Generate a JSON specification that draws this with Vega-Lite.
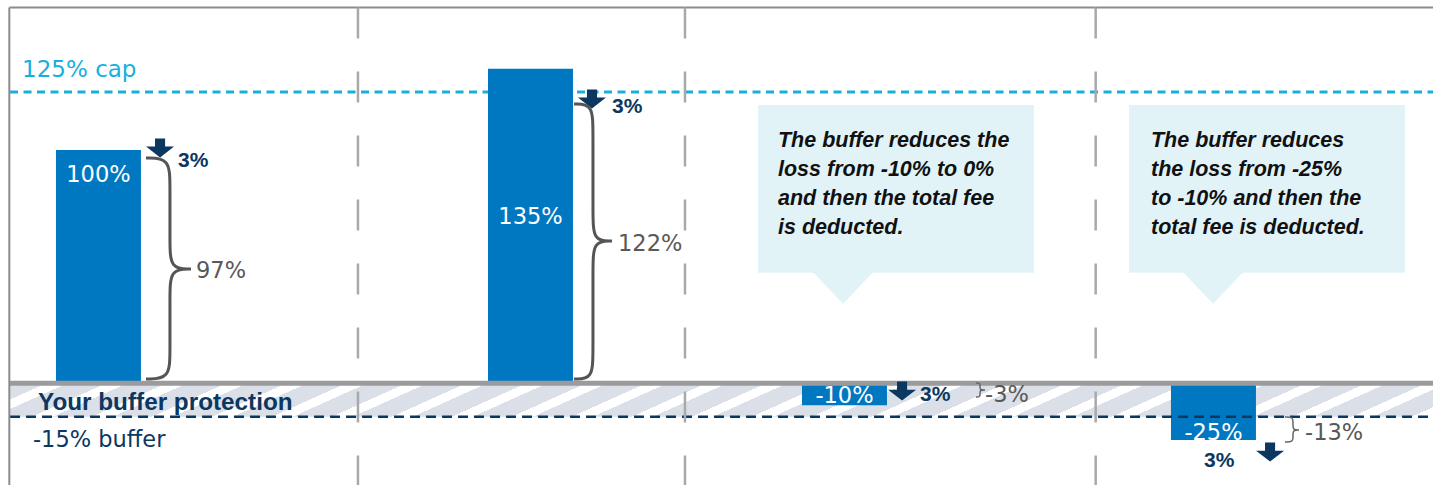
{
  "$schema": "https://vega.github.io/schema/vega-lite/v6.json",
  "width": 1433,
  "height": 485,
  "padding": 0,
  "autosize": {"type": "none"},
  "background": "white",
  "config": {"view": {"stroke": null}, "scale": {"continuousPadding": 0}},
  "layer": [
    {
      "data": {"values": [{}]},
      "mark": {"type": "rect", "fill": {"gradient": "linear", "x1": 0, "y1": 0, "x2": 1.093, "y2": 0.0594, "stops": [
        {"offset": 0, "color": "#dadfe8"}, {"offset": 0.025, "color": "#dadfe8"}, {"offset": 0.025, "color": "#ffffff"}, {"offset": 0.038462, "color": "#ffffff"},
        {"offset": 0.038462, "color": "#dadfe8"}, {"offset": 0.063462, "color": "#dadfe8"}, {"offset": 0.063462, "color": "#ffffff"}, {"offset": 0.076923, "color": "#ffffff"},
        {"offset": 0.076923, "color": "#dadfe8"}, {"offset": 0.101923, "color": "#dadfe8"}, {"offset": 0.101923, "color": "#ffffff"}, {"offset": 0.115385, "color": "#ffffff"},
        {"offset": 0.115385, "color": "#dadfe8"}, {"offset": 0.140385, "color": "#dadfe8"}, {"offset": 0.140385, "color": "#ffffff"}, {"offset": 0.153846, "color": "#ffffff"},
        {"offset": 0.153846, "color": "#dadfe8"}, {"offset": 0.178846, "color": "#dadfe8"}, {"offset": 0.178846, "color": "#ffffff"}, {"offset": 0.192308, "color": "#ffffff"},
        {"offset": 0.192308, "color": "#dadfe8"}, {"offset": 0.217308, "color": "#dadfe8"}, {"offset": 0.217308, "color": "#ffffff"}, {"offset": 0.230769, "color": "#ffffff"},
        {"offset": 0.230769, "color": "#dadfe8"}, {"offset": 0.255769, "color": "#dadfe8"}, {"offset": 0.255769, "color": "#ffffff"}, {"offset": 0.269231, "color": "#ffffff"},
        {"offset": 0.269231, "color": "#dadfe8"}, {"offset": 0.294231, "color": "#dadfe8"}, {"offset": 0.294231, "color": "#ffffff"}, {"offset": 0.307692, "color": "#ffffff"},
        {"offset": 0.307692, "color": "#dadfe8"}, {"offset": 0.332692, "color": "#dadfe8"}, {"offset": 0.332692, "color": "#ffffff"}, {"offset": 0.346154, "color": "#ffffff"},
        {"offset": 0.346154, "color": "#dadfe8"}, {"offset": 0.371154, "color": "#dadfe8"}, {"offset": 0.371154, "color": "#ffffff"}, {"offset": 0.384615, "color": "#ffffff"},
        {"offset": 0.384615, "color": "#dadfe8"}, {"offset": 0.409615, "color": "#dadfe8"}, {"offset": 0.409615, "color": "#ffffff"}, {"offset": 0.423077, "color": "#ffffff"},
        {"offset": 0.423077, "color": "#dadfe8"}, {"offset": 0.448077, "color": "#dadfe8"}, {"offset": 0.448077, "color": "#ffffff"}, {"offset": 0.461538, "color": "#ffffff"},
        {"offset": 0.461538, "color": "#dadfe8"}, {"offset": 0.486538, "color": "#dadfe8"}, {"offset": 0.486538, "color": "#ffffff"}, {"offset": 0.5, "color": "#ffffff"},
        {"offset": 0.5, "color": "#dadfe8"}, {"offset": 0.525, "color": "#dadfe8"}, {"offset": 0.525, "color": "#ffffff"}, {"offset": 0.538462, "color": "#ffffff"},
        {"offset": 0.538462, "color": "#dadfe8"}, {"offset": 0.563462, "color": "#dadfe8"}, {"offset": 0.563462, "color": "#ffffff"}, {"offset": 0.576923, "color": "#ffffff"},
        {"offset": 0.576923, "color": "#dadfe8"}, {"offset": 0.601923, "color": "#dadfe8"}, {"offset": 0.601923, "color": "#ffffff"}, {"offset": 0.615385, "color": "#ffffff"},
        {"offset": 0.615385, "color": "#dadfe8"}, {"offset": 0.640385, "color": "#dadfe8"}, {"offset": 0.640385, "color": "#ffffff"}, {"offset": 0.653846, "color": "#ffffff"},
        {"offset": 0.653846, "color": "#dadfe8"}, {"offset": 0.678846, "color": "#dadfe8"}, {"offset": 0.678846, "color": "#ffffff"}, {"offset": 0.692308, "color": "#ffffff"},
        {"offset": 0.692308, "color": "#dadfe8"}, {"offset": 0.717308, "color": "#dadfe8"}, {"offset": 0.717308, "color": "#ffffff"}, {"offset": 0.730769, "color": "#ffffff"},
        {"offset": 0.730769, "color": "#dadfe8"}, {"offset": 0.755769, "color": "#dadfe8"}, {"offset": 0.755769, "color": "#ffffff"}, {"offset": 0.769231, "color": "#ffffff"},
        {"offset": 0.769231, "color": "#dadfe8"}, {"offset": 0.794231, "color": "#dadfe8"}, {"offset": 0.794231, "color": "#ffffff"}, {"offset": 0.807692, "color": "#ffffff"},
        {"offset": 0.807692, "color": "#dadfe8"}, {"offset": 0.832692, "color": "#dadfe8"}, {"offset": 0.832692, "color": "#ffffff"}, {"offset": 0.846154, "color": "#ffffff"},
        {"offset": 0.846154, "color": "#dadfe8"}, {"offset": 0.871154, "color": "#dadfe8"}, {"offset": 0.871154, "color": "#ffffff"}, {"offset": 0.884615, "color": "#ffffff"},
        {"offset": 0.884615, "color": "#dadfe8"}, {"offset": 0.909615, "color": "#dadfe8"}, {"offset": 0.909615, "color": "#ffffff"}, {"offset": 0.923077, "color": "#ffffff"},
        {"offset": 0.923077, "color": "#dadfe8"}, {"offset": 0.948077, "color": "#dadfe8"}, {"offset": 0.948077, "color": "#ffffff"}, {"offset": 0.961538, "color": "#ffffff"},
        {"offset": 0.961538, "color": "#dadfe8"}, {"offset": 0.986538, "color": "#dadfe8"}, {"offset": 0.986538, "color": "#ffffff"}, {"offset": 1, "color": "#ffffff"}
      ]}},
      "encoding": {
        "x": {"datum": 0.7, "type": "quantitative", "scale": {"domain": [0, 100], "nice": false, "zero": false, "padding": 0}, "axis": null},
        "x2": {"datum": 100},
        "y": {"datum": 0, "type": "quantitative", "scale": {"domain": [-44.4, 164.66], "nice": false, "zero": false, "padding": 0}, "axis": null},
        "y2": {"datum": -15}
      }
    },
    {
      "data": {"values": [{}]},
      "mark": {"type": "rule", "color": "#17afdf", "strokeWidth": 3, "strokeDash": [8, 5.5]},
      "encoding": {
        "x": {"datum": 0.7, "type": "quantitative"},
        "x2": {"datum": 100},
        "y": {"datum": 125, "type": "quantitative"}
      }
    },
    {
      "data": {"values": [
        {"scenario": "Gain above cap", "x": 6.87, "ret": 100},
        {"scenario": "Gain beyond cap", "x": 37.02, "ret": 135},
        {"scenario": "Loss within buffer", "x": 58.93, "ret": -10},
        {"scenario": "Loss beyond buffer", "x": 84.68, "ret": -25}
      ]},
      "mark": {"type": "bar", "width": 85, "color": "#0078c1"},
      "encoding": {
        "x": {"field": "x", "type": "quantitative"},
        "y": {"field": "ret", "type": "quantitative"},
        "y2": {"datum": 0}
      }
    },
    {
      "data": {"values": [{}]},
      "mark": {"type": "rule", "color": "#9b9b9e", "strokeWidth": 5, "yOffset": 1.3},
      "encoding": {
        "x": {"datum": 0.7, "type": "quantitative"},
        "x2": {"datum": 100},
        "y": {"datum": 0, "type": "quantitative"}
      }
    },
    {
      "data": {"values": [{}]},
      "mark": {"type": "rule", "color": "#0b3761", "strokeWidth": 2.5, "strokeDash": [10, 6]},
      "encoding": {
        "x": {"datum": 0.7, "type": "quantitative"},
        "x2": {"datum": 100},
        "y": {"datum": -15, "type": "quantitative"}
      }
    },
    {
      "data": {"values": [{}]},
      "mark": {"type": "rule", "color": "#8c8c8c", "strokeWidth": 2},
      "encoding": {
        "x": {"datum": 0.65, "type": "quantitative"},
        "x2": {"datum": 100},
        "y": {"datum": 161.4, "type": "quantitative"}
      }
    },
    {
      "data": {"values": [{}]},
      "mark": {"type": "rule", "color": "#8c8c8c", "strokeWidth": 2},
      "encoding": {
        "x": {"datum": 0.65, "type": "quantitative"},
        "y": {"datum": 161.4, "type": "quantitative"},
        "y2": {"datum": -44.4}
      }
    },
    {
      "data": {"values": [{"x": 24.98}, {"x": 47.8}, {"x": 76.46}]},
      "mark": {"type": "rule", "color": "#a9a9a9", "strokeWidth": 2.5, "strokeDash": [31, 33]},
      "encoding": {
        "x": {"field": "x", "type": "quantitative"},
        "y": {"datum": 161.4, "type": "quantitative"},
        "y2": {"datum": -44.4}
      }
    },
    {
      "data": {"values": [{"x": 52.9, "x2": 72.16}, {"x": 78.79, "x2": 98.05}]},
      "mark": {"type": "rect", "fill": "#e2f3f8"},
      "encoding": {
        "x": {"field": "x", "type": "quantitative"},
        "x2": {"field": "x2"},
        "y": {"datum": 119.4, "type": "quantitative"},
        "y2": {"datum": 47.1}
      }
    },
    {
      "data": {"values": [{"x": 58.83}, {"x": 84.65}]},
      "mark": {"type": "point", "shape": "M-1,-0.05L1,-0.05L0,1Z", "size": 3844, "filled": true, "fill": "#e2f3f8", "opacity": 1, "strokeWidth": 0},
      "encoding": {
        "x": {"field": "x", "type": "quantitative"},
        "y": {"datum": 47.1, "type": "quantitative"}
      }
    },
    {
      "data": {"values": [
        {"x": 11.17, "y": 100.9}, {"x": 41.31, "y": 122.0}, {"x": 62.95, "y": -3.9}, {"x": 88.63, "y": -30.2}
      ]},
      "mark": {"type": "point", "shape": "M-0.36,-0.68L0.36,-0.68L0.36,-0.1L1,-0.1L0,0.68L-1,-0.1L-0.36,-0.1Z", "size": 784, "filled": true, "fill": "#0b3761", "opacity": 1, "strokeWidth": 0},
      "encoding": {
        "x": {"field": "x", "type": "quantitative"},
        "y": {"field": "y", "type": "quantitative"}
      }
    },
    {
      "data": {"values": [
        {"b": 1, "i": 1, "x": 10.19, "y": 96.55}, {"b": 1, "i": 2, "x": 11.86, "y": 96.55}, {"b": 1, "i": 3, "x": 11.86, "y": 84.48}, {"b": 1, "i": 4, "x": 11.86, "y": 60.78}, {"b": 1, "i": 5, "x": 11.86, "y": 48.71}, {"b": 1, "i": 6, "x": 13.33, "y": 48.71}, {"b": 1, "i": 7, "x": 13.33, "y": 48.71}, {"b": 1, "i": 8, "x": 13.33, "y": 48.71}, {"b": 1, "i": 9, "x": 11.86, "y": 48.71}, {"b": 1, "i": 10, "x": 11.86, "y": 36.64}, {"b": 1, "i": 11, "x": 11.86, "y": 13.36}, {"b": 1, "i": 12, "x": 11.86, "y": 1.29}, {"b": 1, "i": 13, "x": 10.19, "y": 1.29},
        {"b": 2, "i": 1, "x": 40.06, "y": 119.83}, {"b": 2, "i": 2, "x": 41.38, "y": 119.83}, {"b": 2, "i": 3, "x": 41.38, "y": 107.76}, {"b": 2, "i": 4, "x": 41.38, "y": 72.84}, {"b": 2, "i": 5, "x": 41.38, "y": 60.78}, {"b": 2, "i": 6, "x": 42.71, "y": 60.78}, {"b": 2, "i": 7, "x": 42.71, "y": 60.78}, {"b": 2, "i": 8, "x": 42.71, "y": 60.78}, {"b": 2, "i": 9, "x": 41.38, "y": 60.78}, {"b": 2, "i": 10, "x": 41.38, "y": 48.71}, {"b": 2, "i": 11, "x": 41.38, "y": 13.36}, {"b": 2, "i": 12, "x": 41.38, "y": 1.29}, {"b": 2, "i": 13, "x": 40.06, "y": 1.29}
      ]},
      "mark": {"type": "line", "interpolate": "basis", "color": "#555555", "strokeWidth": 3},
      "encoding": {
        "x": {"field": "x", "type": "quantitative"},
        "y": {"field": "y", "type": "quantitative"},
        "order": {"field": "i"},
        "detail": {"field": "b"}
      }
    },
    {
      "data": {"values": [
        {"b": 3, "i": 1, "x": 68.11, "y": -0.43}, {"b": 3, "i": 2, "x": 68.39, "y": -0.43}, {"b": 3, "i": 3, "x": 68.39, "y": -1.72}, {"b": 3, "i": 4, "x": 68.39, "y": -2.16}, {"b": 3, "i": 5, "x": 68.39, "y": -3.45}, {"b": 3, "i": 6, "x": 68.74, "y": -3.45}, {"b": 3, "i": 7, "x": 68.74, "y": -3.45}, {"b": 3, "i": 8, "x": 68.74, "y": -3.45}, {"b": 3, "i": 9, "x": 68.39, "y": -3.45}, {"b": 3, "i": 10, "x": 68.39, "y": -4.74}, {"b": 3, "i": 11, "x": 68.39, "y": -5.17}, {"b": 3, "i": 12, "x": 68.39, "y": -6.47}, {"b": 3, "i": 13, "x": 68.11, "y": -6.47},
        {"b": 4, "i": 1, "x": 89.67, "y": -15.09}, {"b": 4, "i": 2, "x": 90.23, "y": -15.09}, {"b": 4, "i": 3, "x": 90.23, "y": -17.24}, {"b": 4, "i": 4, "x": 90.23, "y": -18.53}, {"b": 4, "i": 5, "x": 90.23, "y": -20.69}, {"b": 4, "i": 6, "x": 90.65, "y": -20.69}, {"b": 4, "i": 7, "x": 90.65, "y": -20.69}, {"b": 4, "i": 8, "x": 90.65, "y": -20.69}, {"b": 4, "i": 9, "x": 90.23, "y": -20.69}, {"b": 4, "i": 10, "x": 90.23, "y": -22.84}, {"b": 4, "i": 11, "x": 90.23, "y": -23.71}, {"b": 4, "i": 12, "x": 90.23, "y": -25.86}, {"b": 4, "i": 13, "x": 89.67, "y": -25.86}
      ]},
      "mark": {"type": "line", "interpolate": "basis", "color": "#666666", "strokeWidth": 1.5},
      "encoding": {
        "x": {"field": "x", "type": "quantitative"},
        "y": {"field": "y", "type": "quantitative"},
        "order": {"field": "i"},
        "detail": {"field": "b"}
      }
    },
    {
      "data": {"values": [
        {"x": 6.87, "y": 86.3, "t": "100%"}, {"x": 37.02, "y": 68.1, "t": "135%"}, {"x": 58.93, "y": -9.2, "t": "-10%"}, {"x": 84.68, "y": -25.0, "t": "-25%"}
      ]},
      "mark": {"type": "text", "font": "DejaVu Sans", "fontSize": 22.5, "color": "#ffffff", "align": "center", "baseline": "alphabetic"},
      "encoding": {
        "x": {"field": "x", "type": "quantitative"},
        "y": {"field": "y", "type": "quantitative"},
        "text": {"field": "t"}
      }
    },
    {
      "data": {"values": [
        {"x": 13.68, "y": 44.7, "t": "97%"}, {"x": 43.13, "y": 56.5, "t": "122%"}, {"x": 68.74, "y": -8.5, "t": "-3%"}, {"x": 91.07, "y": -25.0, "t": "-13%"}
      ]},
      "mark": {"type": "text", "font": "DejaVu Sans", "fontSize": 22.5, "color": "#595959", "align": "left", "baseline": "alphabetic"},
      "encoding": {
        "x": {"field": "x", "type": "quantitative"},
        "y": {"field": "y", "type": "quantitative"},
        "text": {"field": "t"}
      }
    },
    {
      "data": {"values": [
        {"x": 12.42, "y": 92.8, "t": "3%"}, {"x": 42.71, "y": 115.9, "t": "3%"}, {"x": 64.2, "y": -8.2, "t": "3%"}, {"x": 84.02, "y": -36.6, "t": "3%"}
      ]},
      "mark": {"type": "text", "font": "Liberation Sans", "fontWeight": "bold", "fontSize": 21, "color": "#0b3761", "align": "left", "baseline": "alphabetic"},
      "encoding": {
        "x": {"field": "x", "type": "quantitative"},
        "y": {"field": "y", "type": "quantitative"},
        "text": {"field": "t"}
      }
    },
    {
      "data": {"values": [{"x": 1.54, "y": 131.5, "t": "125% cap"}]},
      "mark": {"type": "text", "font": "DejaVu Sans", "fontSize": 23, "color": "#17afdf", "align": "left", "baseline": "alphabetic"},
      "encoding": {
        "x": {"field": "x", "type": "quantitative"},
        "y": {"field": "y", "type": "quantitative"},
        "text": {"field": "t"}
      }
    },
    {
      "data": {"values": [{"x": 2.65, "y": -12.07, "t": "Your buffer protection"}]},
      "mark": {"type": "text", "font": "Liberation Sans", "fontWeight": "bold", "fontSize": 24.3, "color": "#0b3761", "align": "left", "baseline": "alphabetic"},
      "encoding": {
        "x": {"field": "x", "type": "quantitative"},
        "y": {"field": "y", "type": "quantitative"},
        "text": {"field": "t"}
      }
    },
    {
      "data": {"values": [{"x": 2.3, "y": -28.2, "t": "-15% buffer"}]},
      "mark": {"type": "text", "font": "DejaVu Sans", "fontSize": 22.5, "color": "#0b3761", "align": "left", "baseline": "alphabetic"},
      "encoding": {
        "x": {"field": "x", "type": "quantitative"},
        "y": {"field": "y", "type": "quantitative"},
        "text": {"field": "t"}
      }
    },
    {
      "data": {"values": [
        {"x": 54.29, "y": 101.3, "t": "The buffer reduces the\nloss from -10% to 0%\nand then the total fee\nis deducted."},
        {"x": 80.32, "y": 101.3, "t": "The buffer reduces\nthe loss from -25%\nto -10% and then the\ntotal fee is deducted."}
      ]},
      "mark": {"type": "text", "font": "Liberation Sans", "fontWeight": "bold", "fontStyle": "italic", "fontSize": 21.5, "lineHeight": 29, "lineBreak": "\n", "color": "#111111", "align": "left", "baseline": "alphabetic"},
      "encoding": {
        "x": {"field": "x", "type": "quantitative"},
        "y": {"field": "y", "type": "quantitative"},
        "text": {"field": "t"}
      }
    }
  ]
}
